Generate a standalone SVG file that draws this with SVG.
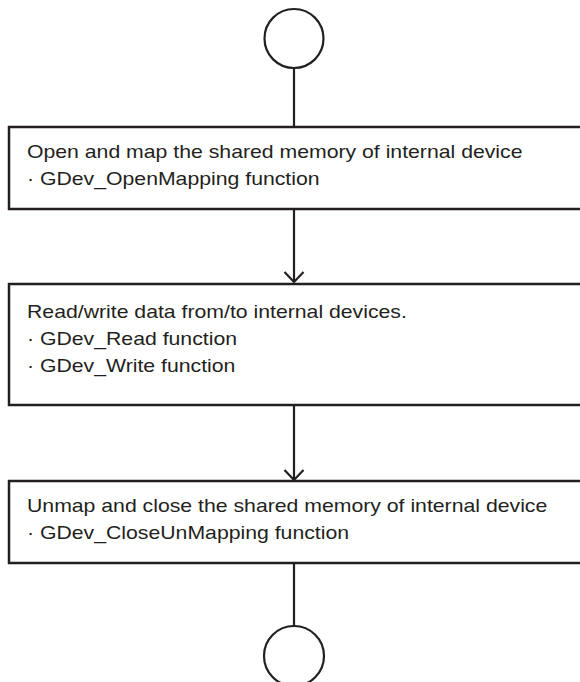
<svg xmlns="http://www.w3.org/2000/svg" width="580" height="682" viewBox="0 0 580 682">
<style>
.box{fill:#fff;stroke:#231f20;stroke-width:2.5}
.term{fill:#fff;stroke:#231f20;stroke-width:2.2}
.conn{fill:none;stroke:#231f20;stroke-width:2.2}
.head{fill:none;stroke:#231f20;stroke-width:2.2;stroke-linejoin:miter}
.t{font-family:"Liberation Sans",Arial,sans-serif;font-size:18px;fill:#231f20}
</style>
<rect width="580" height="682" fill="#fff"/>
<g id="connectors">
<line class="conn" x1="294" y1="68" x2="294" y2="127"/>
<line class="conn" x1="294" y1="209" x2="294" y2="282"/>
<polyline class="head" points="284.5,272 294,282 303.5,272"/>
<line class="conn" x1="294" y1="405" x2="294" y2="480"/>
<polyline class="head" points="284.5,470 294,480 303.5,470"/>
<line class="conn" x1="294" y1="563" x2="294" y2="626"/>
</g>
<g id="start">
<circle class="term" cx="294" cy="38.5" r="29.5"/>
</g>
<g id="step1">
<rect class="box" x="9" y="127" width="580" height="82"/>
<text class="t" transform="translate(27,158) scale(1.18,1)">Open and map the shared memory of internal device</text>
<text class="t" transform="translate(27,185) scale(1.18,1)">· GDev_OpenMapping function</text>
</g>
<g id="step2">
<rect class="box" x="9" y="284" width="580" height="121"/>
<text class="t" transform="translate(27,318) scale(1.18,1)">Read/write data from/to internal devices.</text>
<text class="t" transform="translate(27,345) scale(1.18,1)">· GDev_Read function</text>
<text class="t" transform="translate(27,372) scale(1.18,1)">· GDev_Write function</text>
</g>
<g id="step3">
<rect class="box" x="9" y="481" width="580" height="82"/>
<text class="t" transform="translate(27,512) scale(1.18,1)">Unmap and close the shared memory of internal device</text>
<text class="t" transform="translate(27,539) scale(1.18,1)">· GDev_CloseUnMapping function</text>
</g>
<g id="end">
<circle class="term" cx="294" cy="656" r="30"/>
</g>
</svg>
